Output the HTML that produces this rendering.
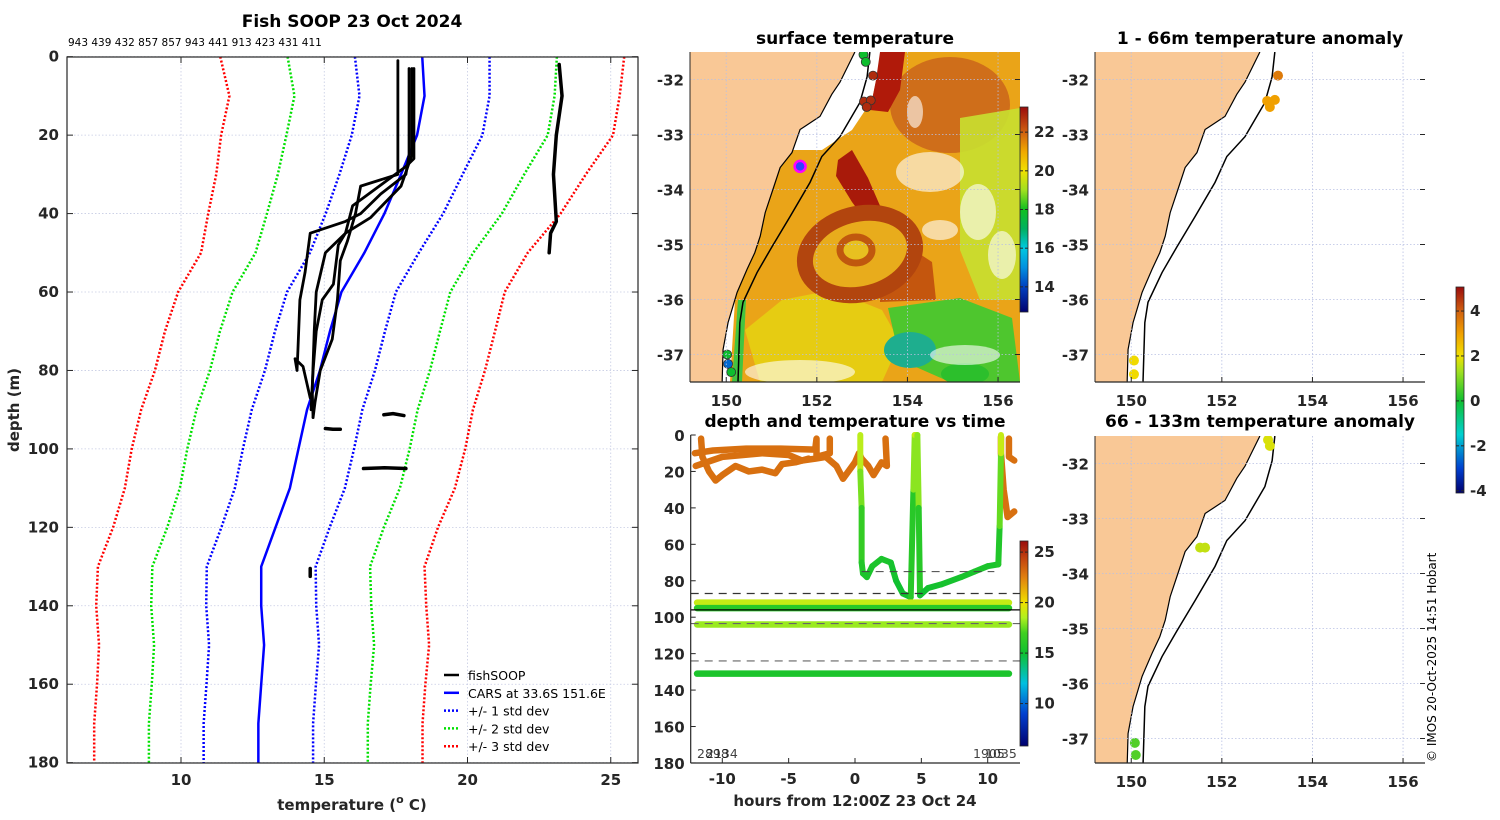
<!DOCTYPE html>
<html><head><meta charset="utf-8"><style>
body{margin:0;background:#fff;}
svg{display:block;font-family:"DejaVu Sans","Liberation Sans",sans-serif;}
.tk{font-size:15px;font-weight:bold;fill:#262626;}
.ttl{font-size:17px;font-weight:bold;fill:#000;}
</style></head><body>
<svg id="fig" width="1500" height="820" viewBox="0 0 1500 820" xmlns="http://www.w3.org/2000/svg">
<defs>
<clipPath id="c1"><rect x="690" y="52" width="330" height="330"/></clipPath>
<clipPath id="c2"><rect x="1095" y="52" width="330" height="330"/></clipPath>
<clipPath id="c3"><rect x="1095" y="436" width="330" height="327"/></clipPath>
<clipPath id="cm"><rect x="67" y="57" width="571" height="706"/></clipPath>
</defs>
<text class="ttl" x="352" y="27" text-anchor="middle">Fish SOOP 23 Oct 2024</text>
<text x="68" y="46" font-size="10.5">943 439 432 857 857 943 441 913 423 431 411</text>
<text class="ttl" x="855" y="44" text-anchor="middle">surface temperature</text>
<text class="ttl" x="855" y="427" text-anchor="middle">depth and temperature vs time</text>
<text class="ttl" x="1260" y="44" text-anchor="middle">1 - 66m temperature anomaly</text>
<text class="ttl" x="1260" y="427" text-anchor="middle">66 - 133m temperature anomaly</text>
<text x="0" y="0" font-size="12" transform="translate(1436,762) rotate(-90)">© IMOS 20-Oct-2025 14:51 Hobart</text>
<g id="main"></g>
<g id="sst"></g>
<g id="dt"></g>
<g id="an1"></g>
<g id="an2"></g>
</svg>
<script>
// ---------- data ----------
const carsDepth=[0,10,20,30,40,50,60,70,80,90,100,110,120,130,140,150,160,170,180];
const carsMean=[18.42,18.5,18.24,17.68,17.1,16.4,15.6,15.2,14.85,14.4,14.1,13.8,13.3,12.8,12.8,12.9,12.8,12.7,12.7];
const carsSd=[2.35,2.27,2.28,2.15,2.05,1.9,1.9,1.92,1.92,1.93,1.94,1.92,1.89,1.9,1.92,1.92,1.91,1.91,1.91];
const fishT=[
 [17.57,17.57,16.27,16.09,15.81,15.56,15.46,15.28,14.86,14.68,14.61],
 [17.96,17.96,17.85,16.97,16.27,15.74,14.51,14.33,14.15,14.08,14.05,13.98,14.26,14.51],
 [18.13,18.13,17.85,15.99,15.74,15.49,15.32,14.93,14.72,14.61,14.54],
 [18.06,18.06,17.68,16.62,15.74,15.04,14.72,14.65,14.58,14.61],
 [23.2,23.3,23.1,23.0,23.1,22.9,22.85],
 [15.04,15.3,15.56],[17.08,17.4,17.78],[16.37,17.1,17.85],[14.51,14.51]];
const fishD=[
 [1,30,33,40,47,52,62,72,80,88,92],
 [3,25,30,35,40,42,45,55,62,75,80,77,79,87],
 [3,26,28,38,45,48,58,62,70,80,90],
 [3,25,33,41,45,50,60,70,85,92],
 [2,10,20,30,42,45,50],
 [94.8,95,95],[91.3,91,91.5],[105,104.8,105],[130.5,132.5]];
const tempTicks=[10,15,20,25];
const depthTicks=[0,20,40,60,80,100,120,140,160,180];
// maps
const coastLon=[152.84,152.51,152.33,152.07,151.63,151.45,151.19,151.03,150.86,150.75,150.63,150.46,150.24,150.04,149.93,149.91];
const coastLat=[-31.5,-32.05,-32.27,-32.67,-32.91,-33.33,-33.6,-34.0,-34.42,-34.85,-35.15,-35.45,-35.87,-36.42,-36.91,-37.49];
const shelfLon=[153.17,153.11,152.95,152.51,152.11,151.85,151.41,151.01,150.68,150.37,150.3,150.26];
const shelfLat=[-31.5,-31.95,-32.42,-33.04,-33.4,-33.87,-34.49,-35.04,-35.51,-36.05,-36.42,-37.49];
const lonTicks=[150,152,154,156];
const latTicks=[-32,-33,-34,-35,-36,-37];
const sstDotLon=[153.03,153.08,153.24,153.04,153.19,153.1,151.63,150.02,150.04,150.11];
const sstDotLat=[-31.55,-31.68,-31.93,-32.4,-32.38,-32.5,-33.58,-37.0,-37.17,-37.32];
const sstDotT=[17.8,17.8,22.8,22.8,22.8,22.8,0,17.8,14.5,17.8];
const sstTicks=[14,16,18,20,22];
const an1Lon=[153.24,153.0,153.17,153.06,150.06,150.06];
const an1Lat=[-31.93,-32.39,-32.37,-32.5,-37.11,-37.36];
const an1Val=[3.6,3.0,3.0,3.0,2.1,2.1];
const an2Lon=[153.02,153.06,151.52,151.63,150.08,150.1];
const an2Lat=[-31.57,-31.68,-33.53,-33.53,-37.08,-37.3];
const an2Val=[1.8,1.8,1.6,1.6,0.6,0.6];
const anTicks=[-4,-2,0,2,4];
// depth-time
const hourTicks=[-10,-5,0,5,10];
const dtDepthTicks=[0,20,40,60,80,100,120,140,160,180];
const dtTempTicks=[10,15,20,25];
const trackH=[
 [-12.06,-10.7,-8.2,-5.6,-3,-2.9,-2.9,-1.9,-1.9],
 [-12,-10,-7,-5,-4,-3,-2.2,-1.4,-0.9,0,0.3,0.5,1,1.4,2,2.4,2.3],
 [-11.6,-11.5,-11,-10.5,-10,-9,-8,-7,-6,-5.5,-4.5,-3.5],
 [11,11,11.2,11.5,12],[11.6,11.6,12]];
const trackD=[
 [10,8.5,7.5,7.5,8,2,12,10,2],
 [17,12,10,11,14,13,12,17,24,15,10,13,17,22,15,17,2],
 [2,12,20,25,22,17,20,19,21,16,15,13],
 [1,10,30,45,42],[2,12,14]];
const trackT=[23,23,23,23,23];
const castH=[0.4,0.4,0.5,0.5,0.6,0.9,1.3,2,2.7,3.1,3.6,4.2,4.4,4.5,4.7,4.8,4.9,5.5,6.5,8,9,10,10.8,10.9,11,11];
const castD=[0,20,40,70,76,78,72,68,70,80,87,89,30,0,0,40,88,84,82,78,75,72,71,50,10,0];
const castT=[19,18.5,17,16,15.5,15.5,15.5,15.5,15.5,15,15,15,17,19,19,17,15,15,15.3,15.3,15.5,15.5,15.5,16,19,19];
const bandDepth=[92,95,104,131];
const bandTemp=[19,16,18.2,15.5];
const refLineDepth=[87,96,103.5,124];

// ---------- helpers ----------
const NS="http://www.w3.org/2000/svg";
function mk(parent,tag,attrs){const e=document.createElementNS(NS,tag);for(const k in attrs)e.setAttribute(k,attrs[k]);parent.appendChild(e);return e;}
function hex(c){return [parseInt(c.slice(1,3),16),parseInt(c.slice(3,5),16),parseInt(c.slice(5,7),16)];}
function cmap(stops,v){if(v<=stops[0][0])return stops[0][1];for(let i=1;i<stops.length;i++){if(v<=stops[i][0]){const a=stops[i-1],b=stops[i];const f=(v-a[0])/(b[0]-a[0]);const x=hex(a[1]),y=hex(b[1]);return "rgb("+x.map((q,j)=>Math.round(q+(y[j]-q)*f)).join(",")+")";}}return stops[stops.length-1][1];}
const sstStops=[[12.7,"#00006e"],[14,"#0040c0"],[15,"#0090e0"],[16,"#00c8e0"],[17,"#00b060"],[18,"#10c020"],[19,"#a0e020"],[20,"#f0e000"],[21,"#f0a800"],[22,"#d06010"],[23.3,"#9a0c0c"]];
const dtStops=[[5.8,"#00006e"],[9,"#0040d0"],[12,"#00c0e0"],[15,"#10c030"],[17,"#40d020"],[18.5,"#b0f020"],[20,"#f0e000"],[22.5,"#e08010"],[24.5,"#c04010"],[26.1,"#9a0c0c"]];
const anStops=[[-4.1,"#00006e"],[-3,"#0040d0"],[-1.5,"#00d0d0"],[0,"#10c030"],[1.3,"#a0e020"],[2,"#f0e000"],[3,"#f0a000"],[4,"#d06010"],[5.07,"#9a0c0c"]];
function colorbar(g,id,x,y0,y1,vmin,vmax,stops,ticks,name){
 const defs=document.querySelector("defs");
 const lg=mk(defs,"linearGradient",{id:id,x1:0,y1:1,x2:0,y2:0});
 stops.forEach(s=>mk(lg,"stop",{offset:((s[0]-vmin)/(vmax-vmin)),"stop-color":s[1]}));
 const r=mk(g,"rect",{x:x,y:y0,width:8,height:y1-y0,fill:"url(#"+id+")",stroke:"#262626","stroke-width":0.8});
 
 
 ticks.forEach(t=>{const yy=y1-(t-vmin)/(vmax-vmin)*(y1-y0);
  mk(g,"line",{x1:x,x2:x+3,y1:yy,y2:yy,stroke:"#262626"});mk(g,"line",{x1:x+5,x2:x+8,y1:yy,y2:yy,stroke:"#262626"});
  const tx=mk(g,"text",{x:x+14,y:yy+5,"class":"tk","font-size":13});tx.textContent=t;
  
  });
}

// ---------- main profile panel ----------
(function(){
 const g=document.getElementById("main");
 const L=67,R=638,T=57,B=763;
 const xT=t=>181+(t-10)*28.65, yD=d=>56.7+d*3.922;
 tempTicks.forEach(t=>mk(g,"line",{x1:xT(t),x2:xT(t),y1:T,y2:B,stroke:"#c6cbe3","stroke-width":0.8,"stroke-dasharray":"1.5,2"}));
 depthTicks.forEach(d=>mk(g,"line",{x1:L,x2:R,y1:yD(d),y2:yD(d),stroke:"#c6cbe3","stroke-width":0.8,"stroke-dasharray":"1.5,2"}));
 const cg=mk(g,"g",{"clip-path":"url(#cm)"});
 const sdCol={1:"#0000ff",2:"#00e000",3:"#ff0000"};
 [1,2,3].forEach(k=>[-1,1].forEach(s=>{
  const pts=carsDepth.map((d,i)=>xT(carsMean[i]+s*k*carsSd[i])+","+yD(d)).join(" ");
  const p=mk(cg,"polyline",{points:pts,fill:"none",stroke:sdCol[k],"stroke-width":2.5,"stroke-dasharray":"2,2"});
  
  
 }));
 const cp=mk(cg,"polyline",{points:carsDepth.map((d,i)=>xT(carsMean[i])+","+yD(d)).join(" "),fill:"none",stroke:"#0000ff","stroke-width":2.5});
 
 
 fishT.forEach((arr,i)=>{
  const p=mk(cg,"polyline",{points:arr.map((t,j)=>xT(t)+","+yD(fishD[i][j])).join(" "),fill:"none",stroke:"#000","stroke-width":i>=4?3.5:2.8,"stroke-linejoin":"round","stroke-linecap":"round"});
  
  
 });
 mk(g,"rect",{x:L,y:T,width:R-L,height:B-T,fill:"none",stroke:"#262626","stroke-width":1.2});
 tempTicks.forEach(t=>{mk(g,"line",{x1:xT(t),x2:xT(t),y1:B,y2:B-6,stroke:"#262626"});mk(g,"line",{x1:xT(t),x2:xT(t),y1:T,y2:T+6,stroke:"#262626"});
  const tx=mk(g,"text",{x:xT(t),y:B+22,"class":"tk","text-anchor":"middle"});tx.textContent=t;
  
  });
 depthTicks.forEach(d=>{mk(g,"line",{x1:L,x2:L+6,y1:yD(d),y2:yD(d),stroke:"#262626"});mk(g,"line",{x1:R,x2:R-6,y1:yD(d),y2:yD(d),stroke:"#262626"});
  const tx=mk(g,"text",{x:L-8,y:yD(d)+5,"class":"tk","text-anchor":"end"});tx.textContent=d;
  
  });
 const xl=mk(g,"text",{x:352,y:810,"class":"tk","font-size":16.5,"text-anchor":"middle"});
 xl.innerHTML='temperature (<tspan font-size="11" dy="-7">o</tspan><tspan dy="7"> C)</tspan>';
 
 
 const yl=mk(g,"text",{x:0,y:0,"class":"tk","font-size":16.5,"text-anchor":"middle",transform:"translate(19,410) rotate(-90)"});yl.textContent="depth (m)";
 
 
 const leg=[["fishSOOP","#000",""],["CARS at 33.6S 151.6E","#0000ff",""],["+/- 1 std dev","#0000ff","2,2"],["+/- 2 std dev","#00e000","2,2"],["+/- 3 std dev","#ff0000","2,2"]];
 leg.forEach((l,i)=>{const y=675+i*17.8;
  const gg=mk(g,"g",{});
  
  
  mk(gg,"line",{x1:444,x2:459,y1:y,y2:y,stroke:l[1],"stroke-width":2.5,"stroke-dasharray":l[2]||"none"});
  const t=mk(gg,"text",{x:468,y:y+5,"font-size":12.5});t.textContent=l[0];});
})();

// ---------- map helpers ----------
function mapBase(ox,top){
 const mx=lon=>ox+(lon-149.2)*45.3, my=lat=>top+(-31.5-lat)*55;
 return {mx,my};
}
function mapFrame(g,ox,top,h,mx,my,withXLabels){
 lonTicks.forEach(l=>mk(g,"line",{x1:mx(l),x2:mx(l),y1:top,y2:top+h,stroke:"#b8c0e4","stroke-width":0.8,"stroke-dasharray":"1.5,2"}));
 latTicks.forEach(l=>{if(my(l)<top+h)mk(g,"line",{x1:ox,x2:ox+330,y1:my(l),y2:my(l),stroke:"#b8c0e4","stroke-width":0.8,"stroke-dasharray":"1.5,2"});});
 mk(g,"line",{x1:ox,x2:ox+330,y1:top+h,y2:top+h,stroke:"#262626","stroke-width":1.2});
 mk(g,"line",{x1:ox,x2:ox,y1:top,y2:top+h,stroke:"#262626","stroke-width":1});
 lonTicks.forEach(l=>{mk(g,"line",{x1:mx(l),x2:mx(l),y1:top+h,y2:top+h-5,stroke:"#262626"});
  if(withXLabels){const t=mk(g,"text",{x:mx(l),y:top+h+24,"class":"tk","font-size":15.5,"text-anchor":"middle"});t.textContent=l;
  
  }});
 latTicks.forEach(l=>{const y=my(l);if(y>top+h)return;mk(g,"line",{x1:ox+330,x2:ox+325,y1:y,y2:y,stroke:"#262626"});
  const t=mk(g,"text",{x:ox-6,y:y+6,"class":"tk","font-size":15.5,"text-anchor":"end"});t.textContent=l;
  
  });
}
function coastAndLand(cg,mx,my,ox,top,h){
 const pts=coastLon.map((l,i)=>mx(l)+","+my(coastLat[i]));
 const land=mk(cg,"polygon",{points:pts.join(" ")+" "+ox+","+(top+h+20)+" "+ox+","+(top-10),fill:"#f9c896",stroke:"none"});
 
 
 return pts;
}
function coastLines(cg,mx,my,pts){
 const c=mk(cg,"polyline",{points:pts.join(" "),fill:"none",stroke:"#000","stroke-width":1.2});
 
 
 const s=mk(cg,"polyline",{points:shelfLon.map((l,i)=>mx(l)+","+my(shelfLat[i])).join(" "),fill:"none",stroke:"#000","stroke-width":1.5});
 
 
}

// ---------- SST map ----------
(function(){
 const g=document.getElementById("sst");
 const ox=690,top=52,h=330;const {mx,my}=mapBase(ox,top);
 const cg=mk(g,"g",{"clip-path":"url(#c1)"});
 const f=mk(cg,"g",{});
 
 
 mk(f,"polygon",{points:"760,150 820,150 840,120 870,90 880,52 1020,52 1020,382 730,382 735,300 745,250",fill:"#eaa418"});
 mk(f,"polygon",{points:"850,52 882,52 872,100 852,130 822,150 782,150 800,128 840,83",fill:"#fff"});
 mk(f,"ellipse",{cx:950,cy:105,rx:60,ry:48,fill:"#cf6e1a"});
 mk(f,"polygon",{points:"880,52 905,52 900,90 888,112 870,110 876,80",fill:"#b01a0a"});
 mk(f,"polygon",{points:"838,160 852,150 868,178 884,215 874,232 852,202 836,176",fill:"#a81a0a"});
 mk(f,"polygon",{points:"880,228 932,262 936,300 880,302",fill:"#c4560e"});
 mk(f,"polygon",{points:"960,118 1020,108 1020,300 980,300 960,250",fill:"#c8e030",opacity:0.9});
 mk(f,"polygon",{points:"782,300 832,290 882,310 900,342 882,382 760,382 745,330",fill:"#e6cc12"});
 mk(f,"polygon",{points:"888,308 960,298 1012,318 1020,382 950,382 900,360",fill:"#4ec62e"});
 mk(f,"ellipse",{cx:910,cy:350,rx:26,ry:18,fill:"#1eae8e"});
 mk(f,"ellipse",{cx:965,cy:374,rx:24,ry:11,fill:"#2cbf2c"});
 mk(f,"ellipse",{cx:860,cy:254,rx:56,ry:40,transform:"rotate(-15 860 254)",fill:"#e8ac1c",stroke:"#b2450e","stroke-width":16});
 mk(f,"ellipse",{cx:856,cy:250,rx:16,ry:13,fill:"#e8c020",stroke:"#c0580e","stroke-width":7});
 [[930,172,34,20],[978,212,18,28],[915,112,8,16],[1002,255,14,24],[800,372,55,12],[965,355,35,10],[940,230,18,10]].forEach(e=>mk(f,"ellipse",{cx:e[0],cy:e[1],rx:e[2],ry:e[3],fill:"#fff",opacity:0.6}));
 const pts=coastAndLand(cg,mx,my,ox,top,h);
 mk(cg,"polygon",{points:"738,300 746,300 742,382 732,382",fill:"#44c440"});
 coastLines(cg,mx,my,pts);
 sstDotLon.forEach((l,i)=>{
  const isShip=sstDotT[i]===0;
  const c=mk(cg,"circle",{cx:mx(l),cy:my(sstDotLat[i]),r:isShip?5.5:4.5,fill:isShip?"#3040ff":cmap(sstStops,sstDotT[i]),stroke:isShip?"#ff00ff":"#333","stroke-width":isShip?2.5:0.8});
  
  
 });
 mapFrame(g,ox,top,h,mx,my,true);
 colorbar(g,"gsst",1020,107,312,12.7,23.3,sstStops,sstTicks,"sst-colorbar");
})();

// ---------- anomaly maps ----------
function anomalyMap(id,clip,top,h,lons,lats,vals){
 const g=document.getElementById(id);const ox=1095;const {mx,my}=mapBase(ox,top);
 const cg=mk(g,"g",{"clip-path":"url(#"+clip+")"});
 const pts=coastAndLand(cg,mx,my,ox,top,h);coastLines(cg,mx,my,pts);
 lons.forEach((l,i)=>{const c=mk(cg,"circle",{cx:mx(l),cy:my(lats[i]),r:5,fill:cmap(anStops,vals[i])});
  
  });
 mapFrame(g,ox,top,h,mx,my,true);
}
anomalyMap("an1","c2",52,330,an1Lon,an1Lat,an1Val);
anomalyMap("an2","c3",436,327,an2Lon,an2Lat,an2Val);
colorbar(document.getElementById("an2"),"gan",1456,287,493,-4.1,5.07,anStops,anTicks,"anomaly-colorbar");

// ---------- depth-time panel ----------
(function(){
 const g=document.getElementById("dt");
 const L=690.7,R=1020,T=435,B=763;
 const hx=h=>855+h*13.27, hy=d=>435+d*1.822;
 trackH.forEach((arr,i)=>{const p=mk(g,"polyline",{points:arr.map((h,j)=>hx(h)+","+hy(trackD[i][j])).join(" "),fill:"none",stroke:cmap(dtStops,trackT[i]),"stroke-width":6.5,"stroke-linejoin":"round","stroke-linecap":"round"});
  
  });
 for(let i=1;i<castH.length;i++){const s=mk(g,"line",{x1:hx(castH[i-1]),y1:hy(castD[i-1]),x2:hx(castH[i]),y2:hy(castD[i]),stroke:cmap(dtStops,(castT[i]+castT[i-1])/2),"stroke-width":6,"stroke-linecap":"round"});
  
  }
 const dl=mk(g,"line",{x1:hx(0.5),x2:hx(10.5),y1:hy(75),y2:hy(75),stroke:"#444","stroke-width":1,"stroke-dasharray":"8,6"});
 
 
 bandDepth.forEach((d,i)=>{const b=mk(g,"line",{x1:hx(-11.9),x2:hx(11.6),y1:hy(d),y2:hy(d),stroke:cmap(dtStops,bandTemp[i]),"stroke-width":6.5,"stroke-linecap":"round"});
  
  });
 refLineDepth.forEach((d,i)=>{const l=mk(g,"line",{x1:L,x2:R,y1:hy(d),y2:hy(d),stroke:i===1?"#000":(i===0?"#333":"#666"),"stroke-width":1.2,"stroke-dasharray":i===1?"none":"8,6"});
  
  });
 mk(g,"line",{x1:L,x2:L,y1:T,y2:B,stroke:"#262626","stroke-width":1.2});
 mk(g,"line",{x1:L,x2:R,y1:B,y2:B,stroke:"#262626","stroke-width":1.2});
 hourTicks.forEach(h=>{mk(g,"line",{x1:hx(h),x2:hx(h),y1:B,y2:B-5,stroke:"#262626"});
  const t=mk(g,"text",{x:hx(h),y:B+21,"class":"tk","font-size":15.5,"text-anchor":"middle"});t.textContent=h;
  
  });
 dtDepthTicks.forEach(d=>{mk(g,"line",{x1:L,x2:L+5,y1:hy(d),y2:hy(d),stroke:"#262626"});
  const t=mk(g,"text",{x:L-6,y:hy(d)+6,"class":"tk","font-size":15.5,"text-anchor":"end"});t.textContent=d;
  
  });
 const xl=mk(g,"text",{x:855,y:806,"class":"tk","font-size":16,"text-anchor":"middle"});xl.textContent="hours from 12:00Z 23 Oct 24";
 
 
 [["2898",697],["2134",706],["1905",973],["1035",985]].forEach(a=>{const t=mk(g,"text",{x:a[1],y:758,"font-size":12.5,fill:"#111",opacity:0.8});t.textContent=a[0];
  
  });
 colorbar(g,"gdt",1020,541,746,5.8,26.1,dtStops,dtTempTicks,"depth-time-colorbar");
})();
</script>
</body></html>
